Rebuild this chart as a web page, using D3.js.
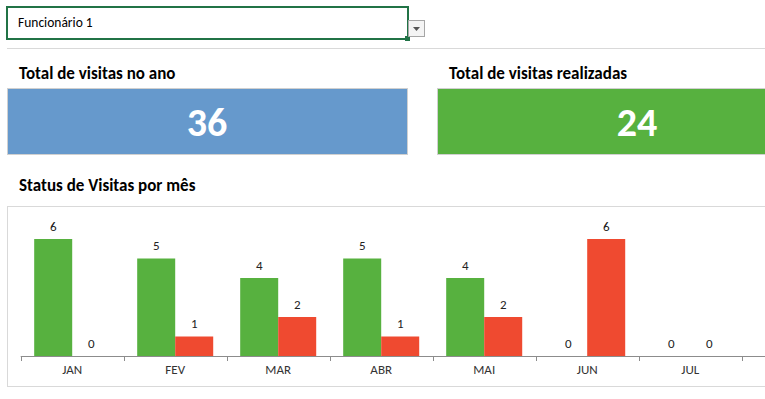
<!DOCTYPE html>
<html><head><meta charset="utf-8">
<script src="https://cdn.jsdelivr.net/npm/d3@7"></script>
<style>
html,body{margin:0;padding:0;background:#fff;}
svg{display:block;font-family:Carlito,Calibri,Lato,"Open Sans",sans-serif;}
</style></head>
<body>
<script>
const selectedEmployee = "Funcionário 1";
const months = ["JAN","FEV","MAR","ABR","MAI","JUN","JUL"];
const seriesNames = ["Realizadas","Pendentes"];
const realizadas = [6,5,4,5,4,0,0];
const pendentes = [0,1,2,1,2,6,0];
const totalAno = 36;
const totalRealizadas = 24;
const kpiTitles = ["Total de visitas no ano","Total de visitas realizadas"];
const chartTitle = "Status de Visitas por mês";

const W = 765, H = 399;
const GREEN = "#57b13f", RED = "#ef4a30", BLUE = "#6699cc";
const svg = d3.select("body").append("svg").attr("width", W).attr("height", H);

// dropdown
svg.append("rect").attr("x",7).attr("y",7).attr("width",401).attr("height",32)
  .attr("fill","#fff").attr("stroke","#217346").attr("stroke-width",2);
svg.append("rect").attr("x",405).attr("y",36).attr("width",5).attr("height",5).attr("fill","#217346");
svg.append("text").attr("x",18).attr("y",27).attr("font-size",13.5).attr("fill","#000").text(selectedEmployee);
svg.append("rect").attr("x",408.5).attr("y",20.5).attr("width",16).attr("height",16)
  .attr("fill","#f4f4f4").attr("stroke","#a6a6a6");
svg.append("path").attr("d","M413,27 L420,27 L416.5,31 Z").attr("fill","#555");
svg.append("line").attr("x1",7).attr("x2",W).attr("y1",48.5).attr("y2",48.5).attr("stroke","#d9d9d9");

// KPI cards
const kpis = [
  {title:kpiTitles[0], value:totalAno, color:BLUE, x:7.5, w:400, tx:19, cx:207},
  {title:kpiTitles[1], value:totalRealizadas, color:GREEN, x:437.5, w:400, tx:449, cx:637}
];
kpis.forEach(k=>{
  svg.append("text").attr("x",k.tx).attr("y",79).attr("font-size",17).attr("font-weight","bold")
    .attr("fill","#000").text(k.title);
  svg.append("rect").attr("x",k.x).attr("y",88.5).attr("width",k.w).attr("height",66)
    .attr("fill",k.color).attr("stroke","#d0d0d0");
  svg.append("text").attr("x",k.cx).attr("y",136).attr("text-anchor","middle")
    .attr("font-size",40).attr("font-weight","bold").attr("fill","#fff").text(k.value);
});

svg.append("text").attr("x",19).attr("y",191).attr("font-size",17).attr("font-weight","bold")
  .attr("fill","#000").text(chartTitle);

// chart panel
svg.append("rect").attr("x",7.5).attr("y",206.5).attr("width",800).attr("height",180)
  .attr("fill","#fff").attr("stroke","#d9d9d9");

const x = d3.scaleBand().domain(months).range([20.7, 741.7]).paddingInner(0).paddingOuter(0);
const xs = d3.scaleBand().domain(seriesNames).range([0, x.bandwidth()]).paddingInner(0).paddingOuter(0.355);
const y = d3.scaleLinear().domain([0,7]).range([356, 219.5]);

const data = months.map((m,i)=>({month:m, values:[
  {key:seriesNames[0], v:realizadas[i], color:GREEN},
  {key:seriesNames[1], v:pendentes[i], color:RED}]}));

const g = svg.append("g");
const groups = g.selectAll("g.grp").data(data).join("g").attr("class","grp")
  .attr("transform", d=>`translate(${x(d.month)},0)`);
groups.selectAll("rect").data(d=>d.values).join("rect")
  .attr("x", d=>xs(d.key)).attr("width", xs.bandwidth())
  .attr("y", d=>y(d.v)).attr("height", d=>y(0)-y(d.v)).attr("fill", d=>d.color);
groups.selectAll("text").data(d=>d.values).join("text")
  .attr("x", d=>xs(d.key)+xs.bandwidth()/2).attr("y", d=>y(d.v)-8.5)
  .attr("text-anchor","middle").attr("font-size",13).attr("fill","#222").text(d=>d.v);

// axis
const axis = svg.append("g").attr("transform",`translate(0,${y(0)})`)
  .call(d3.axisBottom(x).tickSize(0).tickPadding(9));
axis.select(".domain").remove();
axis.selectAll("text").attr("font-size",13).attr("fill","#333")
  .style("font-family","Carlito,Calibri,Lato,'Open Sans',sans-serif");
axis.append("line").attr("x1",x.range()[0]).attr("x2",W).attr("y1",0.5).attr("y2",0.5).attr("stroke","#8c8c8c");
const bounds = months.map(m=>x(m)).concat([x.range()[1]]);
axis.selectAll("line.tk").data(bounds).join("line").attr("class","tk")
  .attr("x1",d=>Math.round(d)+0.5).attr("x2",d=>Math.round(d)+0.5).attr("y1",0).attr("y2",5).attr("stroke","#8c8c8c");
</script>
</body></html>
